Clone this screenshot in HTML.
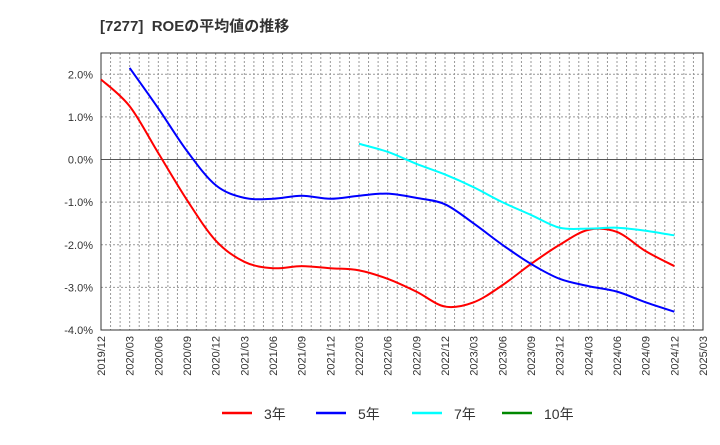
<!DOCTYPE html>
<html><head><meta charset="utf-8"><style>
body{margin:0;background:#fff;font-family:"Liberation Sans","Noto Sans CJK JP",sans-serif}
svg text{font-family:"Liberation Sans","Noto Sans CJK JP",sans-serif}
</style></head><body>
<svg id="c" width="720" height="440" xmlns="http://www.w3.org/2000/svg">
<text x="100" y="31" font-size="15" font-weight="bold" fill="#333" style="white-space:pre">[7277]  ROEの平均値の推移</text>
<g id="grid"></g><g id="axes"></g><g id="series"></g><g id="legend"></g>
</svg>
<script>
const xLabels=["2019/12","2020/03","2020/06","2020/09","2020/12","2021/03","2021/06","2021/09","2021/12","2022/03","2022/06","2022/09","2022/12","2023/03","2023/06","2023/09","2023/12","2024/03","2024/06","2024/09","2024/12","2025/03"];
const yTicks=[2,1,0,-1,-2,-3,-4];
const roe3=[1.88,1.25,0.15,-0.95,-1.9,-2.4,-2.55,-2.5,-2.55,-2.6,-2.8,-3.1,-3.45,-3.35,-2.95,-2.45,-2.0,-1.65,-1.7,-2.15,-2.5];
const roe5=[null,2.15,1.2,0.2,-0.6,-0.9,-0.92,-0.85,-0.92,-0.85,-0.8,-0.9,-1.05,-1.5,-2.0,-2.45,-2.8,-2.97,-3.1,-3.35,-3.57];
const roe7=[null,null,null,null,null,null,null,null,null,0.37,0.18,-0.1,-0.35,-0.65,-1.0,-1.3,-1.6,-1.62,-1.6,-1.67,-1.78];
const roe10=[];
const L=101,R=703,T=53,B=330,yMin=-4,yMax=2.5;
const NS="http://www.w3.org/2000/svg";
const X=i=>L+(R-L)*i/(xLabels.length-1);
const Y=v=>B-(v-yMin)/(yMax-yMin)*(B-T);
function mk(t,a,p){const e=document.createElementNS(NS,t);for(const k in a)e.setAttribute(k,a[k]);p.appendChild(e);return e;}
const g=document.getElementById('grid'),ax=document.getElementById('axes'),s=document.getElementById('series'),lg=document.getElementById('legend');
for(let m=1;m<(xLabels.length-1)*3;m++){const x=L+(R-L)*m/((xLabels.length-1)*3);
const ln=mk('line',{x1:x,x2:x,y1:T,y2:B,stroke:'#999','stroke-dasharray':'2,2','stroke-width':1},g);

}
yTicks.forEach(v=>{const y=Y(v);
const ln=mk('line',{x1:L,x2:R,y1:y,y2:y,stroke:v===0?'#555':'#999','stroke-dasharray':v===0?'':'2,2','stroke-width':1},g);


const t=mk('text',{x:L-8,y:y+4,'font-size':11,'text-anchor':'end',fill:'#333'},ax);t.textContent=v.toFixed(1)+'%';

});
const fr=mk('rect',{x:L,y:T,width:R-L,height:B-T,fill:'none',stroke:'#333'},ax);


xLabels.forEach((lab,i)=>{const x=X(i)+4;const t=mk('text',{x:x,y:B+6,'font-size':11,'text-anchor':'end',fill:'#333',transform:`rotate(-90 ${x} ${B+6})`},ax);t.textContent=lab;

});
function path(arr){const p=[];arr.forEach((v,i)=>{if(v!=null)p.push([X(i),Y(v)]);});if(p.length<2)return'';
let d=`M${p[0][0]},${p[0][1]}`;for(let i=0;i<p.length-1;i++){const p0=p[Math.max(0,i-1)],p1=p[i],p2=p[i+1],p3=p[Math.min(p.length-1,i+2)];
d+=` C${p1[0]+(p2[0]-p0[0])/6},${p1[1]+(p2[1]-p0[1])/6} ${p2[0]-(p3[0]-p1[0])/6},${p2[1]-(p3[1]-p1[1])/6} ${p2[0]},${p2[1]}`;}return d;}
const ser=[[roe3,'#f00','3年','series-3yr'],[roe5,'#00f','5年','series-5yr'],[roe7,'#0ff','7年','series-7yr'],[roe10,'#080','10年','series-10yr']];
const lx=[222,316,412,502];
ser.forEach((o,k)=>{const d=path(o[0]);if(d){const p=mk('path',{d:d,fill:'none',stroke:o[1],'stroke-width':2},s);

}
const l=mk('line',{x1:lx[k],x2:lx[k]+30,y1:413,y2:413,stroke:o[1],'stroke-width':2.5},lg);


const t=mk('text',{x:lx[k]+42,y:419,'font-size':14,fill:'#333'},lg);t.textContent=o[2];

});
</script>
</body></html>
